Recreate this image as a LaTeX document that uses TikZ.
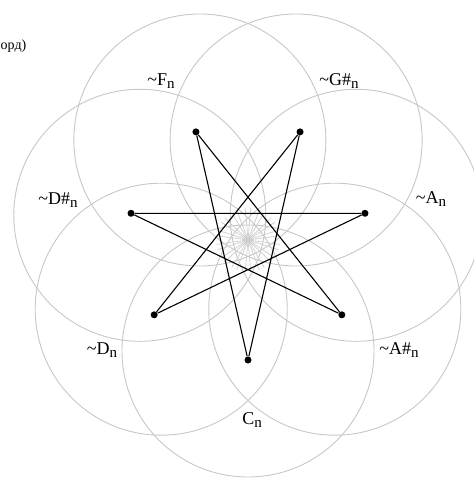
\documentclass[tikz,border=0pt]{standalone}
\usepackage{fontspec}
\setmainfont{Liberation Serif}
\newcommand\subn{\raisebox{-0.45ex}{\fontsize{15}{15}\selectfont n}}

\begin{document}
\begin{tikzpicture}[x=1pt,y=-1pt,
	ring/.style={draw=black!22,line width=0.9pt},
	spoke/.style={draw=black!20,line width=0.7pt},
	chord/.style={line width=1.1pt},
	dot/.style={circle,fill=black,inner sep=0pt,minimum size=7pt},
	note/.style={font=\fontsize{18}{18}\selectfont,inner sep=0pt}]
	\newcommand\midx{248};
	\newcommand\midy{240};
	\newcommand\ringdist{111};
	\newcommand\ringrad{126};
	\newcommand\dotdist{120};

	\useasboundingbox (0,0) rectangle (474,478);
	\clip (0,0) rectangle (474,478);

	\coordinate (O) at (\midx,\midy);

	\foreach \n [count=\k from 0] in {C,As,A,Gs,F,Ds,D} {
		\coordinate (m\n) at ([shift={(\midx,\midy)}]{90-\k*360/7}:\ringdist);
		\draw[ring] (m\n) circle (\ringrad pt);
	}

	\foreach \k in {0,...,13} {
		\draw[spoke] (O) -- ++({90+\k*360/14+5}:32);
		\draw[spoke] (O) -- ++({90+\k*360/14-5}:32);
	}

	\foreach \n [count=\k from 0] in {C,As,A,Gs,F,Ds,D} {
		\node[dot] (\n) at ([shift={(\midx,\midy)}]{90-\k*360/7}:\dotdist) {};
	}

	\foreach \p/\q in {C/Gs,Gs/D,D/A,A/Ds,Ds/As,As/F,F/C} {
		\draw[chord] (\p) -- (\q);
	}

	\node[note] (lC) at (252,420) {C\subn};
	\node[note] (lAs) at (399,350) {\textasciitilde A\#\subn};
	\node[note] (lA) at (431,199) {\textasciitilde A\subn};
	\node[note] (lGs) at (339,81) {\textasciitilde G\#\subn};
	\node[note] (lF) at (161,81) {\textasciitilde F\subn};
	\node[note] (lDs) at (58,200) {\textasciitilde D\#\subn};
	\node[note] (lD) at (102,350) {\textasciitilde D\subn};

	\node[font=\fontsize{14}{14}\selectfont,anchor=west,inner sep=0pt] (title) at (0.5,46) {орд)};
\end{tikzpicture}
\end{document}
